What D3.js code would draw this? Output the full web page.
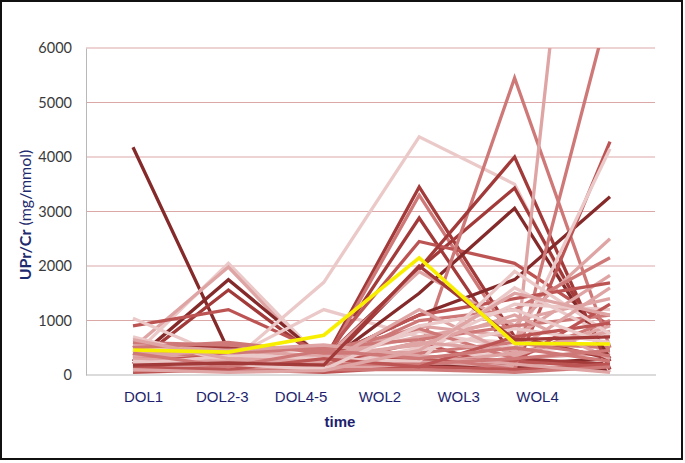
<!DOCTYPE html>
<html>
<head>
<meta charset="utf-8">
<script src="https://cdn.jsdelivr.net/npm/d3@7"></script>
<style>
  body { margin: 0; background: #fff; }
  svg { display: block; }
</style>
</head>
<body>
<div id="chart"></div>
<script>
// categories on the x axis
var categories = ["DOL1", "DOL2-3", "DOL4-5", "WOL2", "WOL3", "WOL4"];
var yTicks = [0, 1000, 2000, 3000, 4000, 5000, 6000];

// one row per patient (UPr/Cr, mg/mmol)
var patients = [
  [4180, 450, 200, 250, 150, 100],
  [350, 2050, 250, 300, 400, 600],
  [500, 1980, 150, 200, 300, 400],
  [250, 1750, 300, 150, 200, 300],
  [200, 1560, 250, 2880, 300, 200],
  [900, 1200, 400, 350, 250, 150],
  [150, 200, 1700, 4370, 3500, 50],
  [1040, 300, 1200, 700, 600, 800],
  [450, 400, 250, 3450, 700, 300],
  [300, 350, 200, 3300, 600, 500],
  [600, 500, 300, 1950, 3430, 250],
  [400, 300, 350, 2450, 2050, 900],
  [300, 250, 200, 1500, 3060, 300],
  [200, 150, 250, 400, 5450, 500],
  [350, 300, 150, 1950, 4000, 100],
  [250, 200, 300, 1100, 1750, 3270],
  [150, 100, 200, 600, 80, 4280],
  [500, 400, 300, 800, 500, 4150],
  [300, 200, 100, 250, 150, 16000],
  [200, 250, 150, 350, 100, 6800],
  [100, 200, 300, 1900, 900, 2500],
  [250, 300, 200, 1000, 1200, 2150],
  [400, 350, 250, 900, 700, 1830],
  [350, 250, 300, 1100, 1400, 1690],
  [550, 450, 350, 700, 1000, 1400],
  [200, 100, 150, 500, 1300, 1200],
  [300, 400, 500, 650, 900, 1100],
  [150, 300, 200, 300, 1600, 700],
  [600, 550, 450, 850, 300, 1000],
  [100, 150, 100, 200, 400, 800],
  [450, 200, 350, 550, 1100, 300],
  [250, 350, 250, 300, 250, 1300],
  [700, 250, 150, 450, 850, 600],
  [50, 100, 50, 150, 100, 200],
  [120, 80, 100, 100, 50, 150],
  [300, 250, 200, 1200, 350, 900],
  [500, 600, 400, 400, 600, 350],
  [200, 350, 300, 250, 1900, 750],
  [350, 450, 550, 350, 200, 50],
  [80, 150, 200, 200, 300, 450],
  [650, 300, 250, 600, 450, 1600],
  [150, 100, 300, 150, 700, 950],
  [250, 200, 100, 900, 1200, 550],
  [400, 150, 450, 300, 500, 250],
  [180, 220, 180, 2000, 650, 700],
  [100, 50, 80, 450, 1500, 1100]
];
// shade index per patient (0 = darkest)
var shadeIdx = [0,5,4,0,1,2,5,5,1,3,1,2,0,3,1,0,2,5,4,3,4,3,4,2,4,5,3,5,3,4,4,2,5,2,3,4,3,5,4,3,4,2,5,3,1,4];
var shades = ["#842a2a", "#a23a3a", "#bd5454", "#cf7878", "#dfa4a4", "#ecc9c9"];

// mean line (yellow)
var meanValues = [460, 420, 730, 2150, 580, 570];

var W = 685, H = 463;
var plot = {left: 86, right: 656, top: 48, bottom: 375};

var svg = d3.select("#chart").append("svg")
  .attr("width", W).attr("height", H);

svg.append("rect")
  .attr("x", 1).attr("y", 1).attr("width", 681).attr("height", 458)
  .attr("fill", "#fff").attr("stroke", "#111").attr("stroke-width", 2);

var x = d3.scalePoint().domain(categories).range([133, 610]);
// the category labels sit a bit left of the data points in the original
var xLab = d3.scalePoint().domain(categories).range([143, 537]);
var y = d3.scaleLinear().domain([0, 6000]).range([plot.bottom, plot.top]);

// grid
svg.append("g").selectAll("line")
  .data(yTicks.slice(1))
  .enter().append("line")
  .attr("x1", plot.left).attr("x2", 655)
  .attr("y1", function(d) { return y(d); })
  .attr("y2", function(d) { return y(d); })
  .attr("stroke", "#dba7a7").attr("stroke-width", 1);

// y axis
var yAxis = d3.axisLeft(y).tickValues(yTicks).tickFormat(d3.format("d")).tickSize(0).tickPadding(14);
var gy = svg.append("g").attr("transform", "translate(" + plot.left + ",0)").call(yAxis);
gy.select(".domain").attr("stroke", "#b8b8b8");
gy.selectAll("text")
  .style("font-family", "Lato, 'Open Sans', sans-serif")
  .style("font-size", "14.5px")
  .style("fill", "#3a3a3a");

// clip for lines
svg.append("clipPath").attr("id", "clip")
  .append("rect").attr("x", plot.left).attr("y", plot.top)
  .attr("width", plot.right - plot.left).attr("height", plot.bottom - plot.top + 4);

var line = d3.line()
  .x(function(d, i) { return x(categories[i]); })
  .y(function(d) { return y(d); });

var lines = svg.append("g").attr("clip-path", "url(#clip)");
lines.selectAll("path.pt")
  .data(patients)
  .enter().append("path")
  .attr("class", "pt")
  .attr("d", line)
  .attr("fill", "none")
  .attr("stroke", function(d, i) { return shades[shadeIdx[i]]; })
  .attr("stroke-width", 3.3)
  .attr("stroke-linejoin", "miter");

lines.append("path")
  .datum(meanValues)
  .attr("d", line)
  .attr("fill", "none")
  .attr("stroke", "#f8ee00")
  .attr("stroke-width", 3.6);

// x axis baseline
svg.append("line")
  .attr("x1", plot.left).attr("x2", plot.right)
  .attr("y1", plot.bottom).attr("y2", plot.bottom)
  .attr("stroke", "#b8b8b8").attr("stroke-width", 1.2);

// x labels
var xAxis = d3.axisBottom(xLab).tickSize(0).tickPadding(0);
var gx = svg.append("g").attr("transform", "translate(0,391)").call(xAxis);
gx.select(".domain").remove();
gx.selectAll("text")
  .attr("dy", "0.71em")
  .style("font-family", "'Liberation Sans', Arial, sans-serif")
  .style("font-size", "15px")
  .style("fill", "#1e1f6e");

svg.append("text")
  .attr("x", 340).attr("y", 427)
  .attr("text-anchor", "middle")
  .style("font-family", "'Liberation Sans', Arial, sans-serif")
  .style("font-size", "15px").style("font-weight", "bold")
  .style("fill", "#1e1f6e")
  .text("time");

// y title
var yt = svg.append("text")
  .attr("transform", "translate(31,215) rotate(-90)")
  .attr("text-anchor", "middle")
  .style("font-family", "Lato, 'Open Sans', sans-serif")
  .style("font-size", "16px")
  .style("fill", "#1e2a6e");
yt.append("tspan").style("font-weight", "bold").text("UPr/Cr");
yt.append("tspan").text(" (mg/mmol)");
</script>
</body>
</html>
